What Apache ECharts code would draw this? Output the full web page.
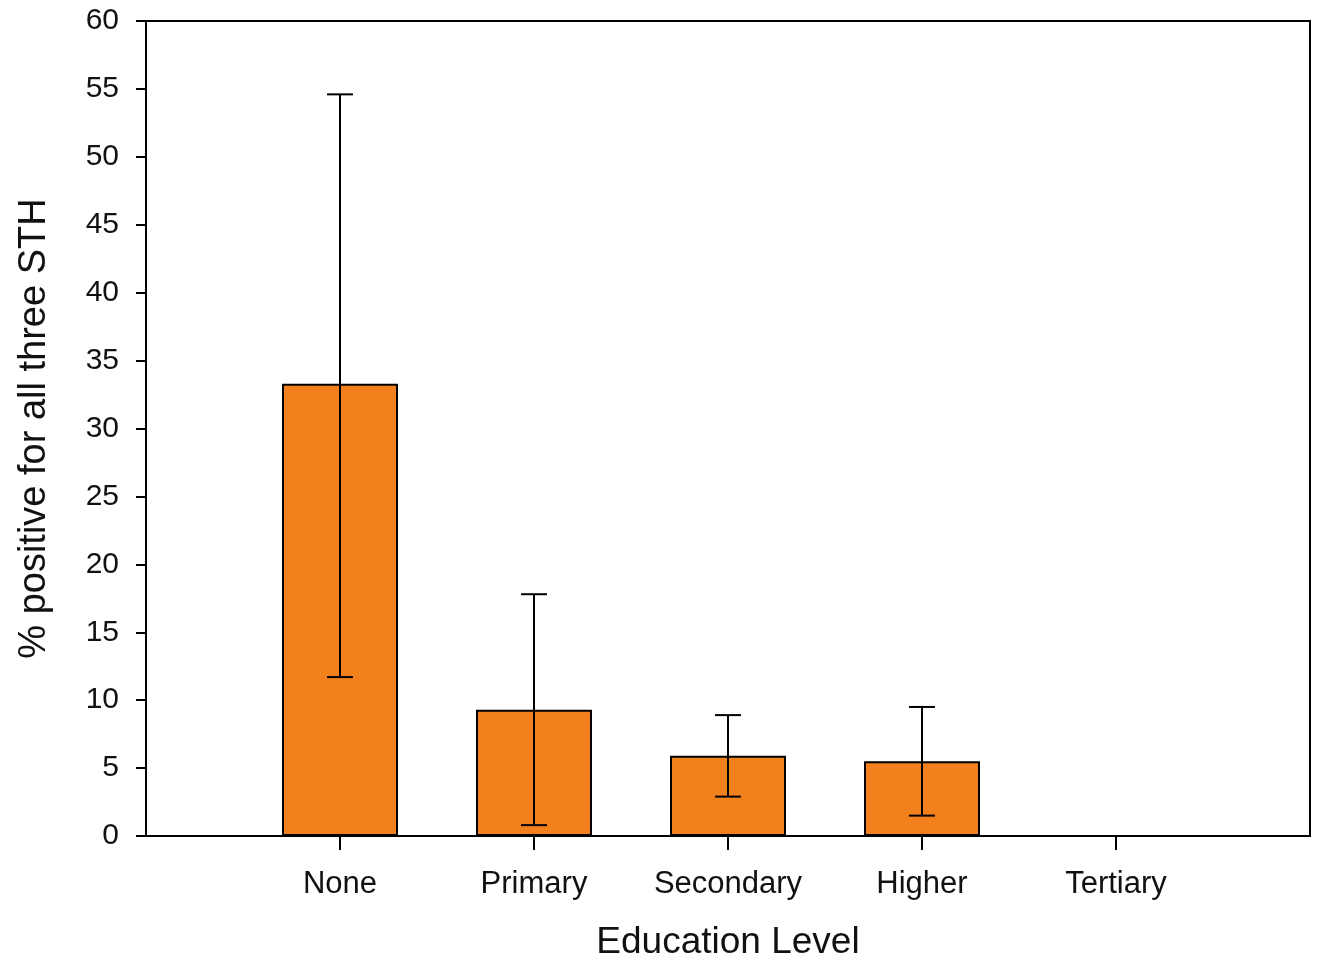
<!DOCTYPE html>
<html>
<head>
<meta charset="utf-8">
<title>% positive for all three STH by education level</title>
<script src="https://cdn.jsdelivr.net/npm/echarts@6/dist/echarts.min.js"></script>
<style>
  html, body { margin: 0; padding: 0; background: #fff; }
  #chart { width: 1320px; height: 962px; }
</style>
</head>
<body>
<div id="chart"></div>
<script>
// Data
const levels = ['None', 'Primary', 'Secondary', 'Higher', 'Tertiary'];
const percentPositive = [33.3, 9.3, 5.9, 5.5, 0];
const errLow = [11.7, 0.8, 2.9, 1.5, null];
const errHigh = [54.6, 17.8, 8.9, 9.5, null];
const yTicks = { min: 0, max: 60, step: 5 };

// Axis has an empty slot at each end, so pad the category list
const axisCats = [''].concat(levels, ['']);
const barData = ['-'].concat(percentPositive, ['-']);
const errData = levels
  .map((_, i) => [i + 1, errLow[i], errHigh[i]])
  .filter(d => d[1] != null);

const chart = echarts.init(document.getElementById('chart'));
const font = '"Liberation Sans", Arial, sans-serif';

chart.setOption({
  animation: false,
  backgroundColor: '#fff',
  grid: {
    left: 146, right: 10, top: 21, bottom: 126,
    outerBoundsMode: 'none',
    show: true, borderColor: '#000', borderWidth: 2, backgroundColor: 'transparent'
  },
  xAxis: {
    type: 'category',
    data: axisCats,
    boundaryGap: false,
    name: 'Education Level',
    nameLocation: 'middle',
    nameGap: 88,
    nameTextStyle: { fontSize: 37, color: '#111', fontFamily: font },
    axisLine: { lineStyle: { color: '#000', width: 2 } },
    axisTick: {
      length: 14,
      lineStyle: { color: '#000', width: 2 },
      interval: (idx) => idx > 0 && idx < axisCats.length - 1
    },
    axisLabel: {
      interval: 0, margin: 33, fontSize: 31, color: '#111', fontFamily: font
    },
    splitLine: { show: false }
  },
  yAxis: {
    type: 'value',
    min: yTicks.min, max: yTicks.max, interval: yTicks.step,
    name: '% positive for all three STH',
    nameLocation: 'middle',
    nameGap: 92,
    nameTextStyle: { fontSize: 38, color: '#111', fontFamily: font },
    axisLine: { show: true, lineStyle: { color: '#000', width: 2 } },
    axisTick: { show: true, length: 10, lineStyle: { color: '#000', width: 2 } },
    axisLabel: { margin: 27, fontSize: 30, color: '#111', fontFamily: font },
    splitLine: { show: false }
  },
  series: [
    {
      type: 'bar',
      data: barData,
      barWidth: 116,
      itemStyle: { color: '#f2811d', borderColor: '#000', borderWidth: 2 }
    },
    {
      type: 'custom',
      data: errData,
      encode: { x: 0, y: [1, 2] },
      z: 5,
      renderItem: function (params, api) {
        const x = api.coord([api.value(0), 0])[0];
        const lo = api.coord([api.value(0), api.value(1)])[1];
        const hi = api.coord([api.value(0), api.value(2)])[1];
        const cap = 13;
        const style = { stroke: '#000', lineWidth: 2 };
        return {
          type: 'group',
          children: [
            { type: 'line', shape: { x1: x, y1: lo, x2: x, y2: hi }, style },
            { type: 'line', shape: { x1: x - cap, y1: hi, x2: x + cap, y2: hi }, style },
            { type: 'line', shape: { x1: x - cap, y1: lo, x2: x + cap, y2: lo }, style }
          ]
        };
      }
    }
  ]
});
</script>
</body>
</html>
